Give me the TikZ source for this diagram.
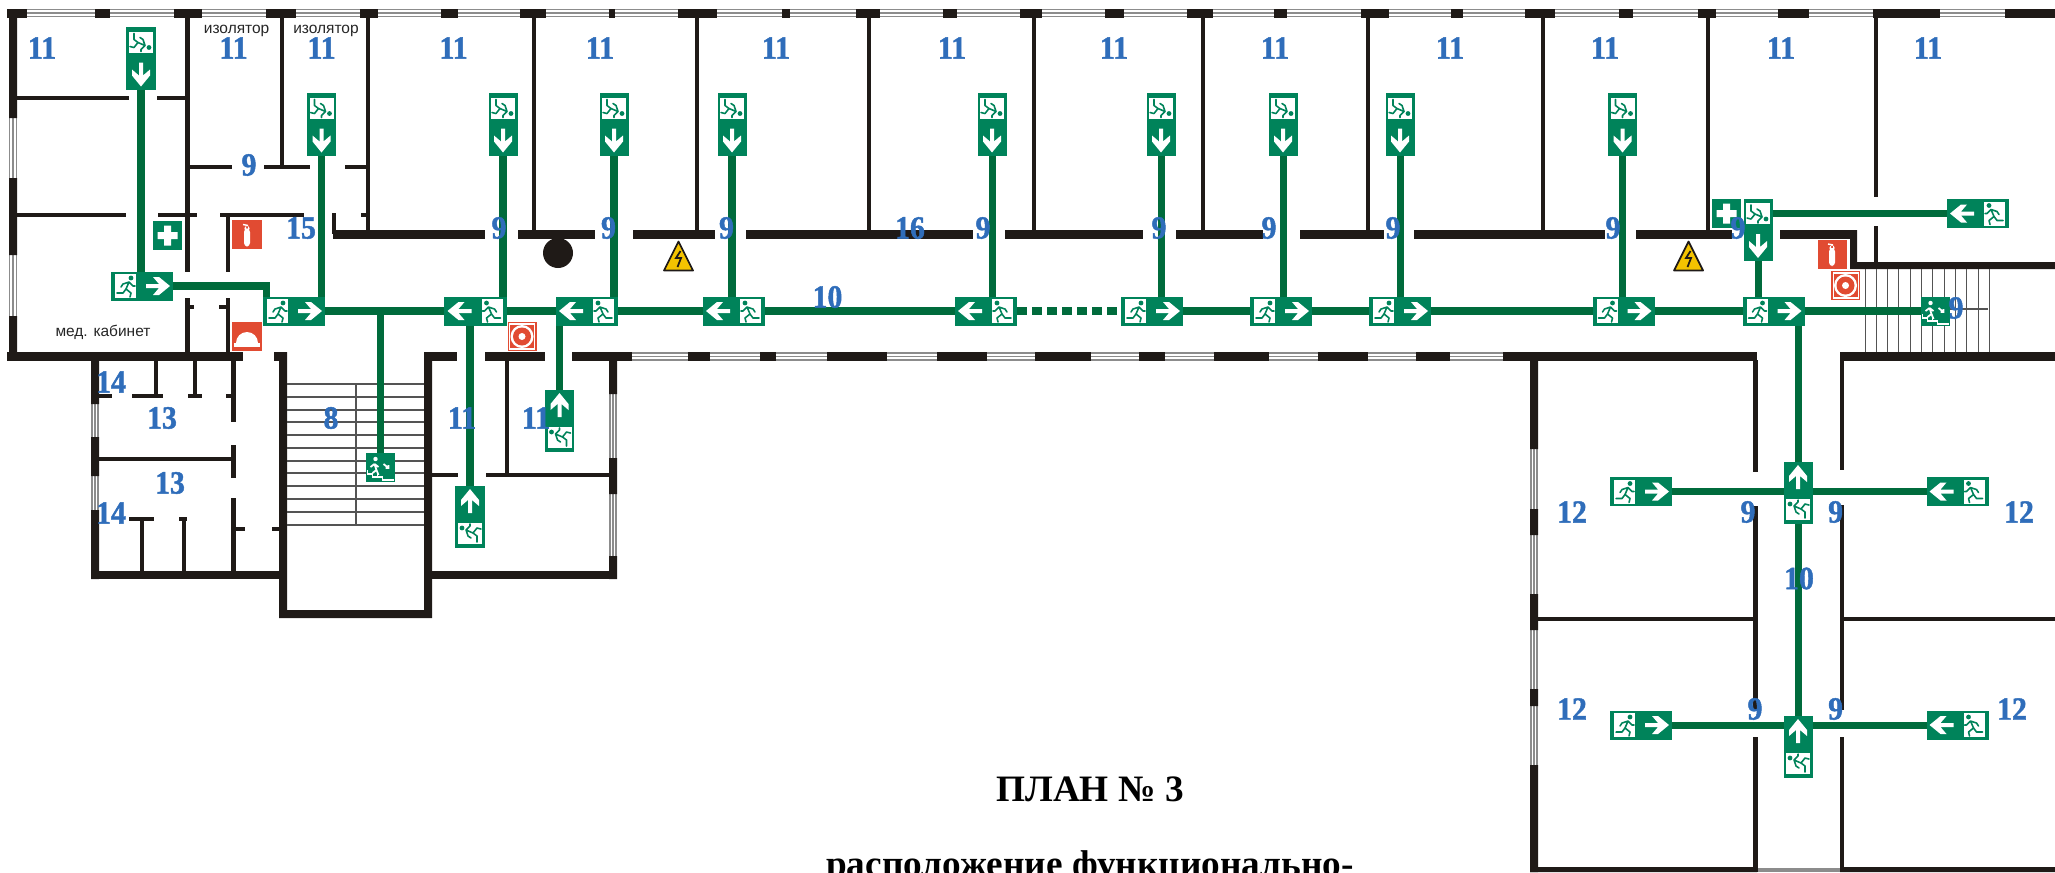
\documentclass[tikz,border=0pt]{standalone}
\usepackage{fontspec}
\setmainfont{Liberation Serif}
\newfontfamily\capfont{Liberation Sans}
\newfontfamily\roomfont[FakeBold=1.4, FakeStretch=0.92]{Liberation Serif Bold}
\usetikzlibrary{calc}
\definecolor{Wall}{HTML}{1F1A17}
\definecolor{SignGreen}{HTML}{00835A}
\definecolor{RouteGreen}{HTML}{006B3C}
\definecolor{FireRed}{HTML}{E14B32}
\definecolor{RoomBlue}{HTML}{2F6DBA}
\definecolor{Volt}{HTML}{F4C300}
\definecolor{Glass}{HTML}{8C8C8C}
\newcommand{\runner}{%
    \fill[white] (-27,-12) rectangle (-6,12);
    \draw[SignGreen, line width=0.45pt, line cap=round, line join=round]
        (-13,-4) -- (-16,3) -- (-11,7) -- (-12,11) (-16,3) -- (-19,7) -- (-25,7)
        (-13,-4) -- (-19,-2) -- (-21,1) (-13,-4) -- (-9,0) -- (-7,0);
    \fill[SignGreen] (-11,-8) circle (2.4);
}
\newcommand{\whitearrow}{%
    \fill[white] (4,-2) -- (17,-2) -- (11,-9) -- (17,-9) -- (28,0) -- (17,9) -- (11,9) -- (17,2) -- (4,2) -- cycle;
}
\tikzset{
    signbase/.style={fill=SignGreen, draw=none, inner sep=0pt, outer sep=0pt},
    signh/.style={signbase, minimum width=0.62cm, minimum height=0.29cm},
    signv/.style={signbase, minimum width=0.29cm, minimum height=0.62cm},
    exitstair/.style={signbase, minimum size=0.29cm, path picture={\begin{scope}[shift={(path picture bounding box.center)}]
        \draw[white, line width=0.5pt] (-6,-3) -- (-4,3) -- (-2,8) (-4,3) -- (-8,6) (-6,-3) -- (-10,0) (-6,-3) -- (-2,0);
        \fill[white] (-5,-8) circle (2.2);
        \draw[white, line width=0.5pt] (3,-3) -- (8,1) (8,-2) -- (8,1) -- (5,1);
        \draw[white, line width=0.55pt] (-13,3) -- (-13,7) -- (-8,7) -- (-8,10) -- (-3,10) -- (-3,7) (-3,10) -- (2,10) -- (2,13) -- (13,13);
    \end{scope}}},
    aidsign/.style={signbase, minimum size=0.29cm, path picture={\begin{scope}[shift={(path picture bounding box.center)}]
        \fill[white] (-3.5,-10) rectangle (3.5,10) (-10,-3.5) rectangle (10,3.5);
    \end{scope}}},
    redsign/.style={fill=FireRed, inner sep=0pt, outer sep=0pt, minimum size=0.29cm},
    extsign/.style={redsign, path picture={\begin{scope}[shift={(path picture bounding box.center)}]
        \fill[white, rounded corners=1pt] (-3,12) rectangle (3,-6);
        \fill[white] (0,-6) circle (2.6) (-1,-9) rectangle (1,-6);
        \draw[white, line width=0.4pt] (1,-9) -- (-4,-10);
    \end{scope}}},
    ringsign/.style={redsign, path picture={\begin{scope}[shift={(path picture bounding box.center)}]
        \fill[white] (0,0) circle (11.5);
        \fill[FireRed] (0,0) circle (9);
        \fill[white] (0,0) circle (3.5);
        \draw[white, line width=0.3pt] (-12.5,-12.5) rectangle (12.5,12.5);
    \end{scope}}},
    domesign/.style={redsign, path picture={\begin{scope}[shift={(path picture bounding box.center)}]
        \fill[white] (-11,6.5) arc[start angle=180, end angle=360, radius=11] -- cycle;
        \fill[white] (-13,6.5) rectangle (13,10);
    \end{scope}}},
    route/.style={RouteGreen, line width=2pt},
    wall/.style={Wall, line width=1.3pt},
    roomno/.style={RoomBlue, font=\roomfont\fontsize{9.2}{10}\selectfont, inner sep=0pt},
    roomcap/.style={black!85, font=\capfont\fontsize{4.4}{5}\selectfont, inner sep=0pt},
    plantitle/.style={font=\bfseries\fontsize{10.6}{12}\selectfont, inner sep=0pt},
    tread/.style={Glass!60!black, line width=0.3pt},
}
\begin{document}
\begin{tikzpicture}[x=0.01cm, y=-0.01cm]
    \useasboundingbox (0, 0) rectangle (2055, 872);
    % glazing first, the piers go over it
    \foreach \y in {9.5, 13, 16.5} {
        \draw[Glass, line width=0.4pt] (7, \y) -- (2055, \y);
    }
    \foreach \y in {353, 356.5, 360} {
        \draw[Glass, line width=0.4pt] (632, \y) -- (1503, \y);
    }
    \foreach \x in {9.5, 13, 16.5} {
        \draw[Glass, line width=0.4pt] (\x, 118) -- (\x, 178) (\x, 255) -- (\x, 316);
    }
    \foreach \x in {92, 95, 98} {
        \draw[Glass, line width=0.4pt] (\x, 404) -- (\x, 437) (\x, 476) -- (\x, 510);
    }
    \foreach \x in {610, 613, 616} {
        \draw[Glass, line width=0.4pt] (\x, 394) -- (\x, 458) (\x, 494) -- (\x, 556);
    }
    \foreach \x in {1531, 1534, 1537} {
        \draw[Glass, line width=0.4pt] (\x, 449) -- (\x, 765);
    }
    \foreach \y in {869, 871} {
        \draw[Glass, line width=0.4pt] (1757, \y) -- (1842, \y);
    }
    % piers
    \foreach \a/\b in {7/27, 95/110, 174/202, 266/296, 360/378, 441/458, 520/546, 609/615, 678/717, 782/790, 856/880, 943/957, 1020/1042, 1105/1124, 1187/1213, 1274/1287, 1361/1389, 1451/1463, 1525/1555, 1619/1633, 1698/1716, 1778/1809, 1873/1940, 2005/2055} {
        \fill[Wall] (\a, 9) rectangle (\b, 17.5);
    }
    \foreach \a/\b in {7/243, 274/287, 424/457, 485/545, 572/632, 688/710, 760/776, 827/887, 937/987, 1035/1091, 1139/1165, 1214/1269, 1318/1368, 1416/1450, 1503/1757, 1840/2055} {
        \fill[Wall] (\a, 352) rectangle (\b, 360.5);
    }
    \foreach \a/\b in {333/485, 518/595, 633/715, 746/973, 1005/1143, 1176/1263, 1300/1384, 1414/1605, 1636/1732, 1780/1857} {
        \fill[Wall] (\a, 230) rectangle (\b, 239);
    }
    % outer walls left and stairs
    \fill[Wall] (9, 9) rectangle (17, 118) (9, 178) rectangle (17, 255) (9, 316) rectangle (17, 360);
    \fill[Wall] (91, 352) rectangle (99, 404) (91, 437) rectangle (99, 476) (91, 510) rectangle (99, 579);
    \fill[Wall] (91, 571) rectangle (287, 579);
    \fill[Wall] (279, 352) rectangle (287, 618) (424, 352) rectangle (432, 618) (279, 610) rectangle (432, 618);
    \fill[Wall] (432, 571) rectangle (617, 579);
    \fill[Wall] (609, 352) rectangle (617, 394) (609, 458) rectangle (617, 494) (609, 556) rectangle (617, 579);
    \fill[Wall] (1530, 352) rectangle (1538, 449) (1530, 509) rectangle (1538, 535) (1530, 594) rectangle (1538, 630) (1530, 689) rectangle (1538, 706) (1530, 765) rectangle (1538, 872);
    \fill[Wall] (1850, 230) rectangle (1857, 269) (1850, 262) rectangle (2055, 269);
    \fill[Wall] (1530, 867) rectangle (1757, 872) (1840, 867) rectangle (2055, 872);
    % partitions
    \draw[wall] (187.5, 17) -- (187.5, 272) (187.5, 298) -- (187.5, 353);
    \draw[wall] (282, 17) -- (282, 167) (368, 17) -- (368, 230) (534, 17) -- (534, 230);
    \foreach \x in {697, 869, 1034, 1203, 1368, 1543, 1708} {
        \draw[wall] (\x, 17) -- (\x, 230);
    }
    \draw[wall] (1876, 17) -- (1876, 197) (1876, 226) -- (1876, 262);
    \draw[wall] (17, 98) -- (129, 98) (157, 98) -- (187, 98);
    \draw[wall] (17, 215) -- (126, 215) (158, 215) -- (197, 215) (220, 215) -- (304, 215);
    \draw[wall] (228, 215) -- (228, 272) (228, 298) -- (228, 353);
    \draw[wall] (187, 307) -- (194, 307) (219, 307) -- (228, 307);
    \draw[wall] (190, 167) -- (232, 167) (264, 167) -- (310, 167) (345, 167) -- (366, 167);
    \draw[wall] (334, 213) -- (334, 234) (361, 215) -- (368, 215);
    % lower left rooms
    \draw[wall] (156, 360) -- (156, 396) (132, 396) -- (163, 396);
    \draw[wall] (195, 360) -- (195, 396) (188, 396) -- (202, 396);
    \draw[wall] (233.5, 360) -- (233.5, 422) (226, 396) -- (233, 396) (99, 396) -- (112, 396);
    \draw[wall] (233.5, 445) -- (233.5, 478) (233.5, 498) -- (233.5, 571);
    \draw[wall] (99, 459) -- (233.5, 459);
    \draw[wall] (129, 519) -- (154, 519) (142, 519) -- (142, 571);
    \draw[wall] (179, 519) -- (187, 519) (184, 519) -- (184, 571);
    \draw[wall] (233, 529) -- (245, 529) (272, 529) -- (279, 529);
    \draw[wall] (507, 360) -- (507, 475);
    \draw[wall] (432, 475) -- (458, 475) (486, 475) -- (609, 475);
    % lower right corridor
    \draw[wall] (1755.5, 360) -- (1755.5, 472) (1755.5, 506) -- (1755.5, 710) (1755.5, 737) -- (1755.5, 872);
    \draw[wall] (1842, 360) -- (1842, 470) (1842, 505) -- (1842, 710) (1842, 737) -- (1842, 872);
    \draw[wall] (1538, 619) -- (1755, 619) (1842, 619) -- (2055, 619);
    % stairs
    \foreach \y in {384, 397, 410, 422, 435, 448, 461, 473, 486, 499, 512, 525} {
        \draw[tread] (287, \y) -- (424, \y);
    }
    \draw[tread] (356, 384) -- (356, 525);
    \foreach \x in {1865, 1876.3, ..., 1990} {
        \draw[tread] (\x, 269) -- (\x, 352);
    }
    \draw[tread] (1865, 309) -- (1988, 309);
    \fill[Wall] (558, 253) circle (15);
    % exit signs
    \foreach \n/\x/\y in {s0/142/286, s1/294/311, s6/1152/311, s7/1281/311, s8/1400/311, s9/1623.5/311, s10/1773.5/311, r1/1641/491.5, r2/1641/725} {
        \node[signh] (\n) at (\x, \y) {};
        \begin{scope}[shift={(\n)}]
            \runner\whitearrow
        \end{scope}
    }
    \foreach \n/\x/\y in {s2/475.5/311, s3/587/311, s4/734/311, s5/986/311, e1/1978/213.5, l1/1957.5/491.5, l2/1957.5/725} {
        \node[signh] (\n) at (\x, \y) {};
        \begin{scope}[shift={(\n)}, xscale=-1]
            \runner\whitearrow
        \end{scope}
    }
    \foreach \n/\x/\y in {d0/141/58.5, d1/321.5/124.5, d2/503/124.5, d3/614/124.5, d4/732/124.5, d5/992/124.5, d6/1161/124.5, d7/1283/124.5, d8/1400/124.5, d9/1622.5/124.5, d10/1758/230} {
        \node[signv] (\n) at (\x, \y) {};
        \begin{scope}[shift={(\n)}, rotate=-90]
            \runner\whitearrow
        \end{scope}
    }
    \foreach \n/\x/\y in {u1/470/517, u2/559.5/421, v1/1798/493, v2/1798/747} {
        \node[signv] (\n) at (\x, \y) {};
        \begin{scope}[shift={(\n)}, rotate=90]
            \runner\whitearrow
        \end{scope}
    }
    \node[exitstair] (stairR) at (1935.5, 311) {};
    \node[exitstair] (stairL) at (380.5, 467) {};
    % routes
    \draw[route] (s0.east) -| ($(s1.north west)+(3.5, 0)$);
    \foreach \a/\b in {s1/s2, s2/s3, s3/s4, s4/s5, s6/s7, s7/s8, s8/s9, s9/s10, s10/stairR} {
        \draw[route] (\a) -- (\b);
    }
    \draw[route, dash pattern=on 2.85pt off 1.42pt] (s5.east) -- (s6.west);
    \foreach \a/\b in {d0/s0, d1/s1, d2/s2, d3/s3, d4/s4, d5/s5, d6/s6, d7/s7, d8/s8, d9/s9, d10/s10} {
        \draw[route] (\a.south) -- (\a.south |- \b.north);
    }
    \draw[route] (e1.west) -- (e1.west -| d10.east);
    \draw[route] (r1.east) -- (r1.east -| v1.west);
    \draw[route] (l1.west) -- (l1.west -| v1.east);
    \draw[route] (r2.east) -- (r2.east -| v2.west);
    \draw[route] (l2.west) -- (l2.west -| v2.east);
    \draw[route] (v1.south) -- (v2.north);
    \draw[route] (u2.north) -- (u2.north |- s3.south);
    \draw[route] (u1.north) -- (u1.north |- s2.south);
    \draw[route] (stairL.north) -- (stairL.north |- s1.east);
    \draw[route] (v1.north) -- (v1.north |- s10.south);
    % other signs
    \node[aidsign] (aid1) at (167.5, 235.5) {};
    \node[aidsign] (aid2) at (1726.5, 213.5) {};
    \node[extsign] (ext1) at (247, 234.5) {};
    \node[extsign] (ext2) at (1832, 254) {};
    \node[ringsign] (ring1) at (522, 336.5) {};
    \node[ringsign] (ring2) at (1845.5, 285.5) {};
    \node[domesign] (dome1) at (247, 336.5) {};
    \foreach \x in {678.5, 1688.5} {
        \draw[Wall, fill=Volt, line width=0.5pt, line join=round] (\x-14.5, 270.5) -- (\x, 241.5) -- (\x+14.5, 270.5) -- cycle;
        \draw[Wall, line width=0.5pt] (\x+2, 251) -- (\x-2.5, 258) -- (\x+2.5, 258) -- (\x-1, 267);
    }
    % room numbers
    \foreach \x/\y/\n [count=\i] in {42/48/11, 233.5/48/11, 321.5/48/11, 453.5/48/11, 600/48/11, 776/48/11, 952/48/11, 1114/48/11, 1275/48/11, 1450/48/11, 1605/48/11, 1781/48/11, 1928/48/11,
        249/165/9, 301/228/15, 499/228/9, 608.5/228/9, 726.5/228/9, 910/228/16, 983/228/9, 1159/228/9, 1269/228/9, 1393/228/9, 1613/228/9, 1738/228/9, 827.5/297/10, 1956/308/9,
        111/382/14, 162/418/13, 331/418/8, 462/418/11, 536/418/11, 170/483/13, 111/513/14,
        1572/512/12, 1748/512/9, 1835.6/512/9, 2019/512/12, 1799/578.5/10, 1572/709/12, 1755/709/9, 1835.6/709/9, 2012/709/12} {
        \node[roomno] (no\i) at (\x, \y) {\n};
    }
    \node[roomcap] (iso1) at (236.6, 31) {изолятор};
    \node[roomcap] (iso2) at (326, 31) {изолятор};
    \node[roomcap] (med) at (103, 332) {мед. кабинет};
    \node[plantitle] (plan) at (1090, 789) {ПЛАН № 3};
    \node[plantitle, anchor=base] (planline) at (1090, 876) {расположение функционально-};
\end{tikzpicture}
\end{document}
